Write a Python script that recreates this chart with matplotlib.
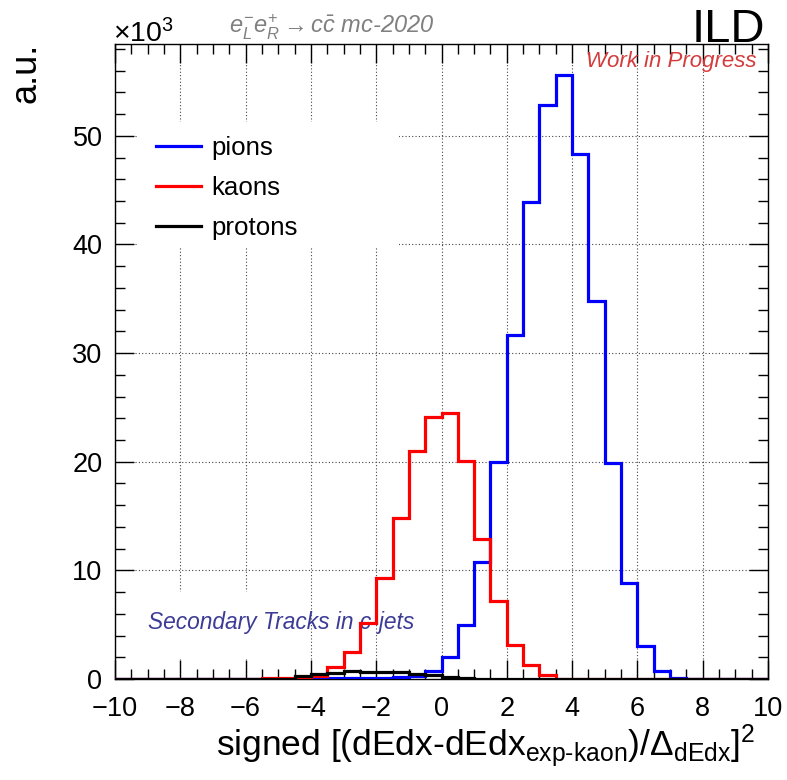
import numpy as np
import matplotlib
matplotlib.use("Agg")
import matplotlib.pyplot as plt
from matplotlib.patches import Rectangle
from matplotlib.ticker import MultipleLocator

plt.rcParams['font.family'] = ['Liberation Sans', 'DejaVu Sans']
plt.rcParams['mathtext.fontset'] = 'custom'
plt.rcParams['mathtext.rm'] = 'Liberation Sans'
plt.rcParams['mathtext.it'] = 'Liberation Sans:italic'
plt.rcParams['mathtext.bf'] = 'Liberation Sans:bold'

# 40 bins of width 0.5 from -10 to 10 (values in thousands)
edges = np.linspace(-10, 10, 41)
pions = [0, 0, 0, 0, 0, 0, 0, 0, 0, 0,
         0, 0.05, 0.05, 0.05, 0.06, 0.06, 0.08, 0.15, 0.3, 0.75,
         2.05, 4.95, 10.8, 20.0, 31.7, 43.9, 52.8, 55.6, 48.3, 34.8,
         19.9, 8.85, 3.05, 0.75, 0.12, 0, 0, 0, 0, 0]
kaons = [0, 0, 0, 0, 0, 0, 0, 0, 0, 0.05,
         0.07, 0.12, 0.25, 1.12, 2.5, 5.2, 9.3, 14.8, 21.0, 24.15,
         24.45, 20.05, 12.9, 7.2, 3.1, 1.3, 0.37, 0, 0, 0,
         0, 0, 0, 0, 0, 0, 0, 0, 0, 0]
protons = [0, 0, 0, 0, 0, 0, 0, 0, 0, 0,
           0, 0.3, 0.5, 0.56, 0.75, 0.65, 0.65, 0.65, 0.5, 0.34,
           0.2, 0.05, 0.02, 0, 0, 0, 0, 0, 0, 0,
           0, 0, 0, 0, 0, 0, 0, 0, 0, 0]
labels = ['pions', 'kaons', 'protons']
colors = ['#0000ff', '#ff0000', '#000000']

fig = plt.figure(figsize=(7.87, 7.80), dpi=100)
ax = fig.add_axes([115/787, 101/780, 653/787, 635/780])

for vals, lab, col in zip([pions, kaons, protons], labels, colors):
    ax.stairs(vals, edges, color=col, lw=2.3, label=lab, zorder=4)

ax.set_xlim(-10, 10)
ax.set_ylim(0, 58.45)
ax.xaxis.set_major_locator(MultipleLocator(2))
ax.xaxis.set_minor_locator(MultipleLocator(0.5))
ax.yaxis.set_major_locator(MultipleLocator(10))
ax.yaxis.set_minor_locator(MultipleLocator(2))
ax.tick_params(which='both', direction='in', top=True, right=True, labelsize=19.5, width=1)
ax.tick_params(which='major', length=14)
ax.tick_params(which='minor', length=7)
ax.tick_params(axis='x', pad=12)
ax.tick_params(axis='y', pad=9)
ax.grid(True, which='major', color='#444444', linestyle=(0, (1, 2)), lw=0.8, zorder=1)
for s in ax.spines.values():
    s.set_linewidth(1.0)

# white panes behind legend and label hide the grid
ax.add_patch(Rectangle((0.035, 0.679), 0.40, 0.198, transform=ax.transAxes,
                       facecolor='white', edgecolor='none', zorder=2))
ax.add_patch(Rectangle((0.035, 0.0315), 0.255, 0.105, transform=ax.transAxes,
                       facecolor='white', edgecolor='none', zorder=2))

leg = ax.legend(loc='upper left', bbox_to_anchor=(0.027, 0.891), frameon=False,
                fontsize=18.6, handlelength=1.74, handletextpad=0.39, labelspacing=0.62)
for ln in leg.get_lines():
    ln.set_linewidth(2.3)

ax.text((148 - 115) / 653, (679 - 622) / 635, 'Secondary Tracks in c-jets', transform=ax.transAxes,
        fontsize=16.4, style='italic', color='#3c3c96', va='center', zorder=3)
ax.text((757 - 115) / 653, (679 - 61) / 635, 'Work in Progress', transform=ax.transAxes,
        fontsize=16, style='italic', color='#d43c3c', ha='right', va='center', zorder=3)

fig.text(113/787, 1 - 42/780, r'$\times$10$^{3}$', fontsize=20.5, ha='left', va='baseline')
fig.text(332/787, 1 - 27/780, r'$e^{-}_{L}e^{+}_{R}\rightarrow c\bar{c}$ mc-2020',
         fontsize=17, style='italic', color='#808080', ha='center', va='center')
fig.text(765/787, 1 - 42/780, 'ILD', fontsize=34, ha='right', va='baseline')
fig.text(26/787, 1 - 43/780, 'a.u.', fontsize=26, rotation=90, ha='center', va='top')
fig.text(216/787, 1 - 756/780,
         r'signed [(dEdx-dEdx$_{\mathrm{exp\text{-}kaon}}$)/$\Delta_{\mathrm{dEdx}}$]$^{2}$',
         fontsize=25.5, ha='left', va='baseline')

fig.savefig('out.png', dpi=100)
